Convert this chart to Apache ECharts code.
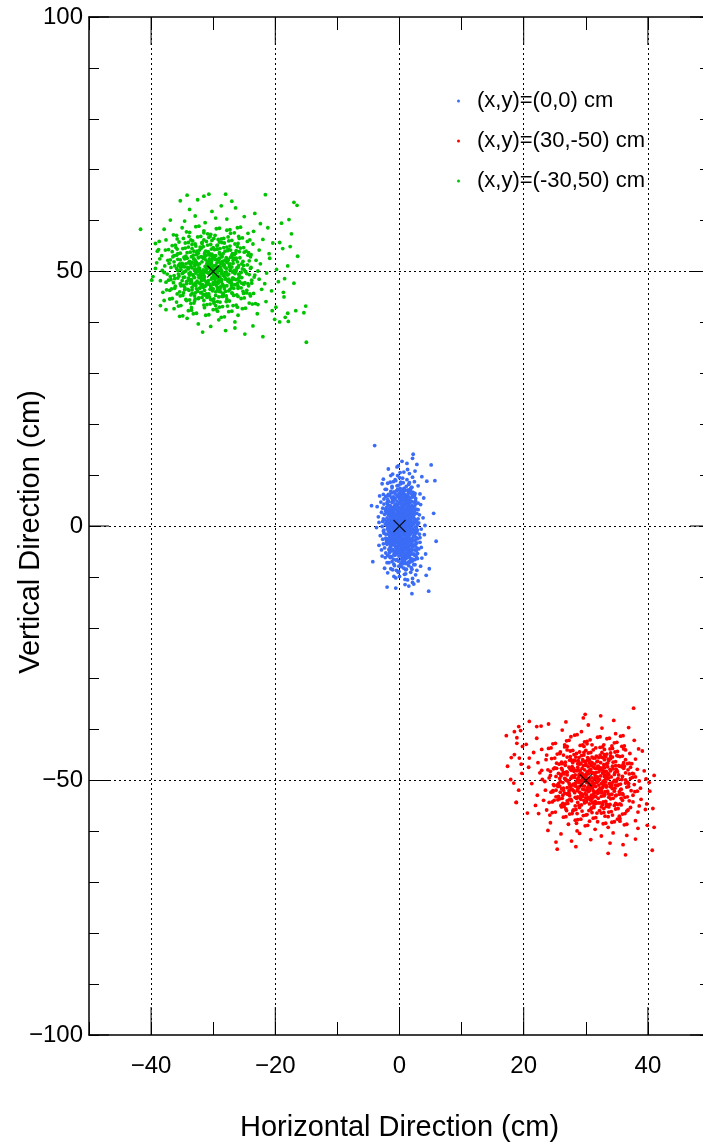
<!DOCTYPE html>
<html>
<head>
<meta charset="utf-8">
<script src="https://cdn.jsdelivr.net/npm/echarts@6/dist/echarts.min.js"></script>
<style>
html, body { margin: 0; padding: 0; background: #fff; }
#chart { width: 703px; height: 1144px; }
</style>
</head>
<body>
<div id="chart"></div>
<script>
// Beam-spot hit positions for three target settings (cm)
const seriesNames = ['(x,y)=(0,0) cm', '(x,y)=(30,-50) cm', '(x,y)=(-30,50) cm'];
const seriesColors = ['#3b6cf6', '#ff0000', '#00c400'];

// Nominal target positions, drawn as black crosses
const centres = [[0, 0], [30, -50], [-30, 50]];

// Labelled ticks and dotted guide positions
const xMajorTicks = [-40, -20, 0, 20, 40];
const yMajorTicks = [-100, -50, 0, 50, 100];
const xGuides = [-40, -20, 0, 20, 40];
const yGuides = [-50, 0, 50];

const blueCloud = [
  [-0.2,0.3],[0.8,-0.6],[1.5,0.9],[-1.1,-0.2],[0.3,0.7],[2.4,-0.8],[-2.3,0.4],[0.0,-0.9],[1.1,0.1],[-0.7,0.8],[0.6,-0.3],[1.9,0.5],[-1.6,-0.7],[0.2,0.0],[2.9,0.2],[-0.4,-0.5],[1.3,-0.9],[-2.8,-0.1],[0.9,0.6],[-0.9,0.2],[0.5,0.9],[1.7,-0.4],[-1.4,0.6],[3.5,-0.6],[-0.1,0.5],[0.7,-0.1],[2.2,0.8],[-1.9,-0.5],[0.4,-0.7],[1.0,0.4],[-0.6,-0.8],[2.6,-0.2],[-3.3,0.7],[0.1,0.2],[1.4,0.7],[-1.2,-0.4],[0.8,0.3],[-0.3,-0.2],[3.1,0.6],[-2.0,0.9],[1.8,-0.7],[0.0,0.8],[-0.8,-0.6],[2.0,0.0],[-1.5,0.1],[0.6,0.5],[1.2,-0.5],[-2.5,-0.8],[4.1,0.1],[-0.5,0.4],[0.9,-0.9],[1.6,0.2],[-1.0,0.7],[0.3,-0.4],[2.3,0.4],[-1.8,0.3],[0.5,-0.2],[-0.2,-0.9],[1.0,0.9],[-3.7,-0.3],[2.7,-0.9],[-0.6,0.0],[1.5,-0.1],[0.2,0.6],[-1.3,0.9],[0.7,0.1],[2.1,-0.6],
  [0.1,1.4],[1.2,2.1],[-0.8,1.8],[2.0,2.7],[-1.7,1.2],[0.6,2.5],[-0.3,2.9],[1.6,1.6],[-2.4,2.3],[0.9,1.1],[-1.1,2.6],[2.5,1.3],[0.3,1.9],[-0.5,1.3],[1.4,2.8],[-2.0,1.6],[3.2,2.2],[0.0,2.4],[-1.4,2.0],[1.0,1.5],[0.5,2.9],[-0.9,1.1],[2.2,1.9],[-2.9,2.7],[0.8,2.2],[-0.1,1.7],[1.8,1.0],[-1.6,2.8],[0.4,1.2],[2.8,2.5],[-0.6,2.2],[1.1,2.6],[-1.2,1.5],[0.2,2.8],[1.5,1.8],[-3.4,1.8],[0.7,1.3],[-0.4,2.0],[2.4,2.9],[-1.9,1.0],[1.3,2.3],[-0.2,1.1],[3.8,1.6],[0.9,2.7],[-1.0,2.4],[1.9,1.4],[0.1,2.2],[-2.2,2.9],[0.6,1.6],[2.1,2.2],[-0.7,1.5],[1.7,2.6],[-1.5,1.9],[0.3,2.6],[-2.6,1.4],[1.0,1.9],[0.0,1.0],[2.7,1.1],[-0.3,2.5],[1.4,1.2],[-1.3,2.7],
  [0.2,-1.3],[1.3,-2.2],[-0.7,-1.7],[2.1,-2.8],[-1.5,-1.1],[0.7,-2.5],[-0.2,-2.9],[1.7,-1.5],[-2.2,-2.4],[1.0,-1.2],[-1.0,-2.6],[2.6,-1.4],[0.4,-1.9],[-0.4,-1.4],[1.5,-2.7],[-1.8,-1.6],[3.3,-2.3],[0.1,-2.4],[-1.3,-2.0],[1.1,-1.6],[0.6,-2.9],[-0.8,-1.1],[2.3,-1.9],[-2.7,-2.6],[0.9,-2.2],[0.0,-1.7],[1.9,-1.0],[-1.5,-2.8],[0.5,-1.2],[2.9,-2.5],[-0.5,-2.2],[1.2,-2.6],[-1.1,-1.5],[0.3,-2.8],[1.6,-1.8],[-3.1,-1.9],[0.8,-1.4],[-0.3,-2.0],[2.5,-2.9],[-1.8,-1.0],[1.4,-2.3],[-0.1,-1.1],[4.0,-1.7],[1.0,-2.7],[-0.9,-2.4],[2.0,-1.3],[0.2,-2.1],[-2.1,-2.9],[0.7,-1.6],[2.2,-2.2],[-0.6,-1.5],[1.8,-2.6],[-1.4,-1.9],[0.4,-2.6],[-2.5,-1.4],[1.1,-1.9],[0.1,-1.0],[2.8,-1.2],[-0.2,-2.5],[1.5,-1.2],[-1.2,-2.7],
  [0.3,3.4],[1.4,4.2],[-0.9,3.8],[2.3,4.7],[-1.8,3.2],[0.8,4.5],[-0.4,4.9],[1.8,3.6],[-2.5,4.3],[1.0,3.1],[-1.2,4.6],[2.7,3.3],[0.4,3.9],[-0.6,3.3],[1.5,4.8],[-2.1,3.6],[3.4,4.2],[0.1,4.4],[-1.5,4.0],[1.2,3.5],[0.6,4.9],[-1.0,3.1],[2.4,3.9],[-3.0,4.7],[0.9,4.2],[-0.2,3.7],[1.9,3.0],[-1.7,4.8],[0.5,3.2],[3.0,4.5],[-0.7,4.2],[1.3,4.6],[-1.3,3.5],[0.2,4.8],[1.7,3.8],[-3.6,3.8],[0.7,3.3],[-0.5,4.0],[2.6,4.9],[-2.0,3.0],[1.1,4.3],[-0.1,3.1],[2.0,4.1],[-2.7,3.5],[0.0,4.6],
  [0.4,-3.4],[1.5,-4.2],[-0.8,-3.8],[2.4,-4.7],[-1.7,-3.2],[0.9,-4.5],[-0.3,-4.9],[1.9,-3.6],[-2.4,-4.3],[1.1,-3.1],[-1.1,-4.6],[2.8,-3.3],[0.5,-3.9],[-0.5,-3.3],[1.6,-4.8],[-2.0,-3.6],[3.5,-4.2],[0.2,-4.4],[-1.4,-4.0],[1.3,-3.5],[0.7,-4.9],[-0.9,-3.1],[2.5,-3.9],[-2.9,-4.7],[1.0,-4.2],[-0.1,-3.7],[2.0,-3.0],[-1.6,-4.8],[0.6,-3.2],[3.1,-4.5],[-0.6,-4.2],[1.4,-4.6],[-1.2,-3.5],[0.3,-4.8],[1.8,-3.8],[-3.3,-3.8],[0.8,-3.3],[-0.4,-4.0],[2.7,-4.9],[-1.9,-3.0],[1.2,-4.3],[0.0,-3.1],[2.1,-4.1],[-2.6,-3.5],[0.1,-4.6],
  [0.2,5.3],[1.3,6.1],[-1.0,5.7],[2.2,6.6],[-1.9,5.2],[0.7,6.4],[-0.5,6.9],[1.7,5.5],[-2.6,6.2],[0.9,5.1],[-1.3,6.5],[2.6,5.4],[0.3,5.9],[-0.7,5.4],[1.4,6.8],[-2.2,5.8],[3.3,6.3],[0.0,6.5],[-1.6,6.0],[1.1,5.6],[0.5,6.9],[-3.2,5.9],[2.4,6.0],[-0.2,5.8],[1.8,6.9],[-1.1,5.1],[0.8,5.9],[3.9,5.5],
  [0.5,-5.3],[1.6,-6.1],[-0.7,-5.7],[2.5,-6.6],[-1.6,-5.2],[1.0,-6.4],[-0.2,-6.9],[2.0,-5.5],[-2.3,-6.2],[1.2,-5.1],[-1.0,-6.5],[2.9,-5.4],[0.6,-5.9],[-0.4,-5.4],[1.7,-6.8],[-1.9,-5.8],[3.6,-6.3],[0.3,-6.5],[-1.3,-6.0],[1.4,-5.6],[0.8,-6.9],[-2.8,-5.9],[2.7,-6.0],[0.1,-5.8],[2.1,-6.9],[-0.8,-5.1],[1.1,-5.9],[4.2,-5.5],
  [0.1,7.4],[1.5,8.2],[-1.2,7.8],[2.4,8.7],[-2.1,7.2],[0.6,8.5],[-0.6,8.9],[1.9,7.6],[-2.8,8.3],[0.9,7.1],[-1.5,8.6],[3.0,7.9],[-0.2,8.0],[4.4,8.8],
  [0.6,-7.4],[1.9,-8.2],[-0.8,-7.8],[2.8,-8.7],[-1.7,-7.2],[1.1,-8.5],[-0.1,-8.9],[2.3,-7.6],[-2.4,-8.3],[1.4,-7.1],[-1.1,-8.6],[3.4,-7.9],[0.3,-8.0],[4.8,-8.4],
  [0.0,9.5],[1.6,10.3],[-1.4,9.9],[2.5,10.8],[-2.6,9.2],[0.7,10.6],[-0.7,9.1],[3.6,9.7],
  [0.8,-9.5],[2.1,-10.3],[-0.9,-9.9],[3.0,-10.8],[-1.9,-9.2],[1.3,-10.6],[-0.2,-9.1],[4.3,-9.7],
  [-0.4,11.6],[1.2,12.3],[-1.8,11.2],[2.8,12.1],[0.4,12.7],
  [0.9,-11.5],[-0.6,-12.2],[2.3,-11.4],[-2.0,-12.0],[4.7,-12.8],
  [-4.0,15.8],[2.2,14.1],[2.1,13.3],[5.1,12.0],[5.7,8.9],[2.0,-13.3],[5.9,-3.0],[-4.3,-7.0],[5.5,2.5],[-4.5,4.0],
  [-0.5,0.4],[0.4,1.1],[1.3,0.2],[-1.4,1.5],[2.0,1.8],[0.9,0.6],[-0.1,1.9],[-2.0,0.8],[1.6,1.3],[0.1,0.1],[2.6,0.7],[-0.8,1.2],[0.6,1.7],[1.9,0.3],[-1.7,0.2],[-0.3,1.0],[1.1,1.9],[3.0,1.4],[0.3,0.5],[-1.1,1.7],[0.7,0.9],[-2.4,1.2],[1.5,0.5],[0.0,1.5],
  [0.6,-0.3],[-0.7,-1.2],[1.7,-1.6],[-1.9,-0.6],[0.2,-1.8],[2.3,-1.1],[-0.3,-0.6],[1.0,-0.2],[-1.3,-1.4],[0.8,-1.3],[2.7,-0.4],[-0.9,-1.9],[0.4,-0.9],[1.4,-1.9],[-2.2,-1.6],[-0.1,-1.4],[1.2,-0.8],[3.2,-1.6],[0.0,-0.2],[-1.6,-0.3],[2.0,-0.6],[0.5,-1.6],[-2.6,-1.0],[1.8,-1.2],
  [0.2,2.4],[1.1,3.2],[-0.9,2.8],[1.9,3.7],[-1.8,2.2],[0.7,3.5],[-0.3,3.9],[1.6,2.6],[-2.3,3.3],[0.9,2.1],[-1.3,3.6],[2.4,2.3],[0.4,3.0],[-0.6,2.3],[1.4,3.8],[-2.1,2.6],[3.0,3.2],[0.0,3.4],[-1.5,3.0],[1.3,2.5],[0.5,3.9],[-0.9,2.1],[2.1,2.9],[0.8,3.2],
  [0.4,-2.4],[1.4,-3.2],[-0.7,-2.8],[2.2,-3.7],[-1.6,-2.2],[0.9,-3.5],[-0.2,-3.9],[1.8,-2.6],[-2.1,-3.3],[1.1,-2.1],[-1.0,-3.6],[2.7,-2.3],[0.5,-3.0],[-0.4,-2.3],[1.6,-3.8],[-1.9,-2.6],[3.3,-3.2],[0.2,-3.4],[-1.3,-3.0],[1.4,-2.5],[0.7,-3.9],[-0.7,-2.1],[2.3,-2.9],[1.0,-3.2],
  [0.1,4.4],[1.2,5.2],[-1.0,4.8],[2.1,5.7],[-1.9,4.2],[0.6,5.5],[-0.4,5.9],[1.7,4.6],[-2.5,5.3],[0.9,4.1],[-1.3,5.6],[2.6,4.3],[0.3,5.0],[-0.6,4.3],[1.4,5.8],[-2.0,4.6],[0.0,5.4],[1.1,4.5],[0.5,5.9],[-0.9,5.1],
  [0.5,-4.4],[1.6,-5.2],[-0.6,-4.8],[2.4,-5.7],[-1.5,-4.2],[1.0,-5.5],[-0.1,-5.9],[1.9,-4.6],[-2.2,-5.3],[1.2,-4.1],[-0.9,-5.6],[2.8,-4.3],[0.6,-5.0],[-0.3,-4.3],[1.6,-5.8],[-1.7,-4.6],[0.2,-5.4],[1.3,-4.5],[0.8,-5.9],[-0.5,-5.1],
  [0.3,6.3],[1.4,7.1],[-0.9,6.7],[2.0,7.6],[-1.8,6.2],[0.7,7.4],[-0.4,7.9],[1.6,6.5],[-2.3,7.2],[0.9,6.1],[-1.2,7.5],[2.5,6.4],[0.1,7.0],[1.1,7.8],
  [0.6,-6.3],[1.7,-7.1],[-0.6,-6.7],[2.5,-7.6],[-1.5,-6.2],[1.1,-7.4],[-0.1,-7.9],[2.1,-6.5],[-2.0,-7.2],[1.3,-6.1],[-0.9,-7.5],[2.9,-6.4],[0.4,-7.0],[1.5,-7.8],
  [0.2,8.3],[1.2,9.1],[-1.0,8.7],[2.1,9.6],[-1.9,8.4],[0.5,9.4],[-0.3,9.9],[1.6,8.5],
  [0.7,-8.3],[1.8,-9.1],[-0.5,-8.7],[2.6,-9.6],[-1.4,-8.4],[1.0,-9.4],[0.0,-9.9],[2.0,-8.5],
  [0.1,10.5],[1.3,11.1],[-1.1,10.2],[-0.2,11.8],
  [0.9,-10.5],[2.1,-11.1],[-0.6,-10.2],[1.5,-11.8],
  [-0.4,0.0],[0.5,0.2],[1.4,-0.3],[-1.2,0.3],[0.9,-0.5],[2.1,0.3],[-0.6,-0.3],[0.2,-0.6],[1.2,0.6],[-1.7,1.0],[0.7,1.4],[1.8,0.9],[-0.9,1.6],[0.0,2.0],[1.0,2.4],[2.3,1.6],[-1.5,2.5],[-0.4,2.6],[0.6,3.0],[1.6,3.3],[-0.8,3.4],[0.3,3.7],[1.2,4.0],[2.2,3.5],[-1.6,3.9],[-0.3,4.3],[0.8,4.7],[1.9,4.9],[-1.1,5.2],[0.0,5.6],[1.1,6.0],[2.0,6.2],[-0.7,6.3],[0.4,6.6],[1.5,5.1],[-1.9,5.9],[0.9,7.0],[-0.3,7.2],[1.8,7.3],[-1.4,6.8],
  [0.7,-0.8],[-0.5,-1.0],[1.6,-0.9],[-1.4,-1.2],[0.3,-1.5],[2.4,-1.5],[-0.2,-1.9],[1.0,-2.0],[-1.0,-2.2],[0.1,-2.7],[1.5,-2.4],[2.5,-2.1],[-1.7,-2.5],[0.6,-3.3],[-0.6,-3.0],[1.7,-3.1],[0.2,-3.8],[-1.5,-3.6],[1.2,-3.9],[2.2,-4.0],[-0.4,-4.4],[0.8,-4.6],[1.9,-4.9],[-1.2,-4.9],[0.0,-5.2],[1.4,-5.4],[-0.8,-5.7],[0.5,-6.0],[2.3,-5.5],[-1.6,-5.9],[1.1,-6.3],[-0.4,-6.6],[0.8,-6.9],[1.8,-6.4],[-1.2,-7.0],[0.2,-7.4],
  [0.0,0.9],[1.0,1.2],[-1.0,-0.9],[2.0,-0.3],[-2.1,0.1],[0.4,2.2],[1.7,2.1],[-0.7,3.9],[1.4,-1.2],[-0.2,-3.5],[0.9,-2.9],[2.9,-0.8],[-2.7,0.9],[0.5,4.2],[-0.1,6.3],[1.3,-6.0],[0.2,8.6],[1.0,-8.6],[-1.8,3.1],[2.6,-3.6]
];

const redCloud = [
  [30.1,-50.3],[33.2,-49.4],[27.4,-50.8],[35.0,-49.9],[31.3,-50.6],[25.2,-49.2],[32.0,-50.1],[28.7,-49.7],[36.4,-50.5],[27.9,-50.9],[34.1,-49.3],[30.6,-49.8],[26.3,-50.4],[37.2,-49.6],[29.8,-50.0],[32.9,-50.8],[24.1,-49.5],[32.4,-49.1],[28.5,-50.2],[35.6,-50.7],[31.0,-49.5],[26.8,-49.9],[34.4,-50.3],[30.0,-49.2],[38.6,-50.1],[29.3,-50.7],[31.7,-50.4],[25.6,-50.6],[33.5,-49.7],[31.5,-49.0],[28.2,-49.4],[35.9,-49.2],[30.5,-50.9],[23.4,-50.2],[34.8,-50.9],[29.5,-49.6],[32.2,-49.8],[27.1,-50.1],[37.8,-50.8],[31.1,-50.2],[24.8,-50.8],[33.0,-50.0],[29.9,-49.4],[35.2,-49.6],[27.6,-49.6],[32.6,-50.5],[39.7,-49.7],[28.9,-50.4],[30.8,-50.7],[26.0,-49.1],[33.8,-50.6],[30.3,-49.9],[36.7,-50.3],[27.3,-50.5],[33.4,-49.0],[23.0,-49.8],[31.9,-49.3],[29.4,-50.1],[34.9,-50.2],[31.4,-49.7],[28.0,-50.7],[37.5,-49.4],[29.6,-49.1],[32.8,-50.2],[26.6,-49.6],[40.2,-50.4],[21.3,-50.6],
  [31.0,-48.6],[33.9,-47.8],[28.1,-48.2],[35.8,-47.3],[26.0,-48.8],[32.4,-47.5],[29.6,-47.1],[34.7,-48.4],[24.8,-47.7],[33.2,-48.9],[27.3,-47.4],[37.0,-48.7],[30.5,-48.1],[29.0,-48.7],[34.3,-47.2],[26.4,-48.4],[38.3,-47.8],[31.8,-47.6],[27.7,-48.0],[32.7,-48.5],[35.3,-47.1],[30.2,-48.3],[23.9,-47.9],[33.5,-47.3],[30.8,-47.8],[28.4,-48.0],[36.4,-48.5],[29.3,-48.8],[32.0,-47.2],[25.6,-48.6],[31.5,-47.6],[34.0,-48.1],[29.8,-47.9],[27.0,-48.4],[31.3,-47.4],[37.7,-48.7],[26.7,-47.0],[33.0,-47.5],[29.1,-48.1],[35.5,-47.2],[28.7,-47.4],[22.6,-48.5],[32.1,-48.3],[30.0,-48.8],[34.6,-48.8],[27.9,-47.7],[36.1,-47.6],[30.4,-47.3],[25.0,-47.5],[32.6,-47.9],[28.3,-48.9],[31.7,-48.4],[35.0,-48.0],[30.9,-47.1],[27.5,-47.8],[33.6,-48.6],[20.8,-47.4],[29.4,-47.6],[32.9,-48.2],[26.2,-47.9],[39.4,-48.1],
  [30.3,-51.4],[33.1,-52.2],[27.6,-51.8],[35.4,-52.7],[25.5,-51.2],[31.9,-52.5],[29.2,-52.9],[34.3,-51.6],[24.4,-52.3],[32.8,-51.1],[27.0,-52.6],[36.6,-51.3],[30.0,-51.9],[28.6,-51.3],[33.9,-52.8],[26.1,-51.6],[37.9,-52.2],[31.4,-52.4],[27.3,-52.0],[32.3,-51.5],[34.9,-52.9],[29.8,-51.1],[23.5,-51.9],[33.0,-52.7],[30.4,-52.2],[28.0,-52.0],[36.0,-52.8],[29.0,-52.3],[31.6,-51.2],[25.2,-51.9],[31.1,-51.4],[33.6,-52.6],[29.5,-51.7],[26.6,-52.5],[30.9,-51.5],[37.3,-52.0],[26.3,-52.9],[32.6,-52.4],[28.8,-51.5],[35.1,-51.0],[28.3,-51.1],[22.2,-52.9],[31.7,-52.3],[29.7,-51.8],[34.2,-51.4],[27.5,-51.0],[35.7,-51.7],[30.1,-52.8],[24.7,-52.0],[32.2,-51.8],[28.2,-52.4],[31.3,-52.6],[34.6,-52.1],[30.6,-52.0],[27.1,-52.7],[33.3,-51.3],[38.8,-51.5],[29.3,-52.6],[32.5,-51.9],[25.9,-52.3],[40.3,-52.1],
  [30.6,-46.6],[33.6,-45.8],[27.8,-46.2],[35.5,-45.3],[25.7,-46.8],[32.1,-45.5],[29.3,-45.1],[34.4,-46.4],[24.5,-45.7],[32.9,-46.9],[27.0,-45.4],[36.7,-46.7],[30.2,-46.1],[28.7,-46.7],[34.0,-45.2],[26.1,-46.4],[38.0,-45.8],[31.5,-45.6],[27.4,-46.0],[32.4,-46.5],[35.0,-45.1],[29.9,-46.3],[23.6,-45.9],[33.2,-45.3],[30.5,-45.8],[28.1,-46.0],[36.1,-46.5],[29.0,-46.8],[31.7,-45.2],[25.3,-46.6],[31.2,-45.6],[33.7,-46.1],[29.5,-45.9],[26.7,-46.4],[31.0,-45.4],[37.4,-46.7],[26.4,-45.0],[32.7,-45.5],[28.8,-46.1],[35.2,-45.2],[28.4,-45.4],[22.3,-46.5],[31.8,-46.3],[20.9,-45.6],[19.6,-46.8],
  [30.0,-53.4],[32.8,-54.2],[27.3,-53.8],[35.1,-54.7],[25.2,-53.2],[31.6,-54.5],[28.9,-54.9],[34.0,-53.6],[24.1,-54.3],[32.5,-53.1],[26.7,-54.6],[36.3,-53.3],[29.7,-53.9],[28.3,-53.3],[33.6,-54.8],[25.8,-53.6],[37.6,-54.2],[31.1,-54.4],[27.0,-54.0],[32.0,-53.5],[34.6,-54.9],[29.5,-53.1],[23.2,-53.9],[32.7,-54.7],[30.1,-54.2],[27.7,-54.0],[35.7,-54.8],[28.7,-54.3],[31.3,-53.2],[24.9,-53.9],[30.8,-53.4],[33.3,-54.6],[29.2,-53.7],[26.3,-54.5],[30.6,-53.5],[37.0,-54.0],[26.0,-54.9],[32.3,-54.4],[28.5,-53.5],[34.8,-53.0],[38.9,-53.7],[21.9,-54.9],[31.4,-54.3],[18.8,-54.3],[39.8,-54.6],
  [30.4,-44.6],[33.9,-43.8],[27.5,-44.2],[35.8,-43.3],[25.4,-44.8],[32.3,-43.5],[29.1,-43.1],[34.7,-44.4],[24.0,-43.7],[33.0,-44.9],[26.6,-43.4],[37.1,-44.7],[30.0,-44.1],[28.5,-44.7],[34.2,-43.2],[25.9,-44.4],[38.5,-43.8],[31.6,-43.6],[27.0,-44.0],[32.6,-44.5],[22.9,-43.9],[29.7,-43.3],[36.4,-44.0],[21.6,-44.5],[31.0,-43.0],[19.8,-43.3],[18.5,-44.9],[39.1,-44.2],
  [30.9,-55.4],[33.7,-56.2],[28.0,-55.8],[35.9,-56.6],[26.1,-55.2],[32.5,-56.4],[29.6,-56.9],[34.8,-55.6],[24.6,-56.3],[33.3,-55.1],[27.4,-56.6],[37.2,-55.3],[30.5,-55.9],[29.0,-55.3],[34.3,-56.8],[26.8,-55.6],[38.4,-56.2],[31.8,-56.4],[27.9,-56.0],[32.9,-55.5],[23.7,-55.8],[30.2,-56.7],[36.6,-56.0],[22.4,-56.5],[31.3,-55.0],[39.6,-55.7],[28.6,-56.5],[35.4,-57.0],
  [29.8,-42.4],[33.4,-41.8],[26.9,-42.2],[35.6,-41.3],[24.7,-42.8],[31.9,-41.5],[28.2,-41.1],[34.6,-42.6],[22.1,-41.7],[37.8,-42.1],[20.4,-42.9],[18.9,-41.6],[30.7,-42.0],[27.6,-41.4],
  [31.2,-57.4],[34.2,-58.2],[28.3,-57.8],[36.2,-58.7],[26.4,-57.2],[32.8,-58.5],[29.9,-58.9],[35.1,-57.6],[24.3,-58.3],[33.6,-57.1],[27.2,-58.6],[38.0,-57.9],[30.6,-58.0],[39.9,-58.8],
  [29.3,-40.4],[32.6,-39.7],[26.2,-40.1],[34.8,-40.8],[22.8,-39.3],[30.4,-39.1],[19.5,-40.2],[36.9,-39.6],
  [31.5,-59.6],[34.4,-60.3],[28.6,-59.9],[36.6,-60.8],[26.0,-60.5],[32.5,-60.9],[38.4,-59.4],[23.9,-59.8],
  [29.6,-37.7],[32.4,-37.3],[26.8,-38.5],[34.5,-38.2],[24.0,-38.9],
  [30.8,-61.6],[33.9,-62.3],[27.7,-61.9],[36.0,-62.6],[25.2,-62.1],
  [37.7,-35.8],[17.2,-41.2],[17.4,-47.2],[18.8,-54.3],[41.0,-49.0],[41.0,-59.2],[40.7,-63.7],[36.4,-64.6],[33.6,-64.3],[25.4,-63.5],[28.4,-63.0],[29.9,-37.0],[18.0,-45.5],[17.9,-49.8],[19.2,-51.9],[40.8,-55.5],[38.0,-61.5],
  [18.5,-40.4],[19.2,-39.4],[20.9,-38.4],[22.1,-39.4],[18.9,-42.7],[19.3,-45.6],[19.7,-48.6],[18.4,-50.5],[20.6,-56.4],
  [30.5,-49.6],[34.0,-50.5],[27.7,-49.3],[32.1,-50.9],[29.0,-50.0],[35.8,-49.8],[25.9,-50.2],[33.0,-49.2],[30.2,-50.4],[36.9,-50.6],[26.7,-49.7],[31.6,-49.4],[34.6,-50.0],[28.4,-50.5],[24.3,-49.0],[32.5,-50.6],[29.7,-49.8],[38.0,-49.3],[31.2,-50.8],[27.9,-49.1],[33.7,-49.5],[25.4,-50.9],[31.8,-50.3],[35.3,-50.8],
  [30.7,-51.3],[33.5,-52.1],[27.8,-51.7],[35.9,-52.6],[25.8,-51.1],[32.4,-52.4],[29.5,-52.8],[34.7,-51.5],[24.7,-52.2],[33.3,-51.0],[27.3,-52.5],[36.9,-51.2],[30.3,-51.8],[29.0,-51.2],[34.2,-52.7],[26.4,-51.5],[38.3,-52.1],[31.7,-52.3],[28.6,-52.0],[32.0,-51.9],[35.4,-52.2],[30.9,-52.9],[27.0,-51.4],[33.0,-52.9],
  [31.3,-48.5],[34.4,-47.7],[28.6,-48.1],[36.2,-47.2],[26.5,-48.7],[32.9,-47.4],[30.0,-47.0],[35.1,-48.3],[25.3,-47.6],[33.7,-48.8],[27.8,-47.3],[37.5,-48.6],[30.7,-48.0],[29.4,-48.6],[34.8,-47.1],[26.9,-48.3],[32.3,-47.9],[28.9,-48.9],[31.9,-47.3],[36.8,-47.9],[24.3,-48.2],[33.3,-48.2],[30.4,-48.7],[28.0,-47.6],
  [30.4,-53.3],[33.2,-54.1],[27.6,-53.7],[35.5,-54.6],[25.6,-53.1],[32.0,-54.4],[29.3,-54.8],[34.4,-53.5],[24.6,-54.2],[32.9,-53.0],[27.1,-54.5],[36.7,-53.2],[30.2,-53.8],[28.7,-53.2],[33.9,-54.7],[26.2,-53.5],[31.5,-54.1],[29.8,-54.4],[31.0,-53.6],[35.9,-53.9],
  [31.0,-46.5],[34.0,-45.7],[28.3,-46.1],[35.9,-45.2],[26.2,-46.7],[32.5,-45.4],[29.7,-45.0],[34.8,-46.3],[25.0,-45.6],[33.3,-46.8],[27.5,-45.3],[37.0,-46.6],[30.6,-46.0],[29.2,-46.6],[33.0,-45.9],[31.9,-46.2],[28.9,-45.5],[36.4,-45.9],[30.0,-46.8],[27.9,-46.5],
  [31.3,-55.3],[34.1,-56.1],[28.4,-55.7],[36.3,-56.5],[26.5,-55.1],[32.9,-56.3],[30.0,-56.8],[35.2,-55.5],[25.1,-56.2],[33.7,-55.2],[27.8,-56.5],[30.8,-55.7],[29.4,-56.0],[32.2,-55.9],
  [30.8,-44.5],[34.3,-43.7],[27.9,-44.1],[36.2,-43.2],[25.8,-44.7],[32.7,-43.4],[29.5,-43.0],[35.1,-44.3],[24.4,-43.6],[33.4,-44.8],[27.0,-43.3],[31.2,-44.0],[29.0,-44.4],[33.0,-43.9],
  [31.6,-57.3],[34.6,-58.1],[28.7,-57.7],[36.6,-58.6],[26.8,-57.1],[33.2,-58.4],[30.3,-58.8],[35.5,-57.5],
  [30.2,-42.3],[33.8,-41.7],[27.3,-42.1],[36.0,-41.2],[25.1,-42.7],[32.3,-41.4],[28.6,-41.0],[35.0,-42.5],
  [30.5,-50.2],[31.8,-49.7],[28.3,-50.6],[34.2,-50.9],[27.0,-50.0],[32.7,-51.4],[29.4,-51.0],[35.6,-51.8],[26.4,-51.9],[31.2,-52.0],[33.9,-51.2],[29.9,-52.6],[36.4,-49.9],[25.8,-49.6],[30.9,-48.4],[32.2,-47.7],[28.8,-47.9],[34.9,-47.8],[27.0,-48.9],[31.4,-46.8],[29.6,-46.2],[33.5,-46.6],[36.0,-46.9],[26.1,-47.6],[30.3,-45.5],[32.3,-45.0],[28.1,-44.9],[34.3,-45.4],[31.6,-53.1],[29.1,-53.5],[33.7,-53.3],[27.4,-53.0],[35.7,-53.5],[30.6,-54.6],[32.5,-55.2],[28.3,-55.0],[34.8,-54.5],[26.9,-55.9],[31.0,-56.3],[33.1,-57.0],[29.2,-57.6],[36.8,-55.8],[24.9,-51.0],[37.6,-52.9],[30.0,-49.0],[31.5,-51.1],[28.9,-49.3],[33.2,-50.3],[27.5,-51.3],[35.3,-48.9],[30.8,-53.9],[32.8,-48.6],[29.7,-44.5],[27.6,-45.9],[34.0,-44.6],[31.9,-58.1],[28.5,-58.4],[35.5,-58.0],[25.5,-53.8],[37.2,-47.4],[30.2,-42.8],[32.9,-43.0],[22.9,-48.0],[38.6,-55.0],[24.2,-56.8],[36.1,-43.8],[26.6,-43.0],[33.6,-59.2],[29.0,-60.4],[23.7,-45.0]
];

const greenCloud = [
  [-31.2,50.3],[-28.4,49.4],[-34.1,50.8],[-26.9,49.9],[-30.2,50.6],[-36.3,49.2],[-29.5,50.1],[-32.8,49.7],[-25.3,50.5],[-33.6,50.9],[-27.7,49.3],[-30.9,49.8],[-35.2,50.4],[-24.6,49.6],[-31.8,50.0],[-28.9,50.8],[-37.4,49.5],[-29.1,49.1],[-33.0,50.2],[-26.2,50.7],[-30.6,49.5],[-34.7,49.9],[-27.3,50.3],[-31.5,49.2],[-22.8,50.1],[-32.3,50.7],[-29.8,50.4],[-35.9,50.6],[-28.1,49.7],[-30.0,49.0],[-33.3,49.4],[-25.8,49.2],[-31.0,50.9],[-38.2,50.2],[-27.0,50.9],[-32.0,49.6],[-29.3,49.8],[-34.4,50.1],[-23.9,50.8],[-30.4,50.2],[-36.8,50.8],[-28.6,50.0],[-31.6,49.4],[-26.5,49.6],[-33.9,49.6],[-29.0,50.5],[-21.4,49.7],[-32.6,50.4],[-30.8,50.7],[-35.5,49.1],[-27.9,50.6],[-31.3,49.9],[-25.0,50.3],[-34.0,50.5],[-28.2,49.0],[-37.9,49.8],[-29.6,49.3],[-32.1,50.1],[-26.6,50.2],[-30.1,49.7],[-33.4,50.7],[-24.2,49.4],[-31.9,49.1],[-28.7,50.2],[-35.0,49.6],[-19.8,50.4],[-39.3,50.6],
  [-30.5,51.4],[-27.6,52.2],[-33.4,51.8],[-25.7,52.7],[-35.6,51.2],[-29.1,52.5],[-31.9,52.9],[-26.8,51.6],[-36.9,52.3],[-28.3,51.1],[-34.2,52.6],[-24.5,51.3],[-30.9,51.9],[-32.5,51.3],[-27.2,52.8],[-35.0,51.6],[-23.1,52.2],[-29.7,52.4],[-33.8,52.0],[-28.8,51.5],[-31.4,52.9],[-37.8,51.1],[-26.1,51.9],[-30.1,52.7],[-32.9,52.2],[-25.2,52.0],[-34.7,52.8],[-28.0,52.3],[-30.7,51.2],[-36.3,51.9],[-27.4,51.4],[-31.6,52.6],[-29.4,51.7],[-33.1,52.5],[-22.4,51.5],[-30.3,52.0],[-38.6,52.5],[-26.4,52.4],[-32.2,51.5],[-28.6,52.9],[-34.9,51.0],[-29.9,51.1],[-24.0,52.9],[-31.2,52.3],[-35.7,52.4],[-27.8,51.8],[-33.6,51.4],[-30.0,52.8],[-25.9,51.2],[-32.7,51.8],[-29.2,52.1],[-36.5,52.9],[-28.2,51.3],[-31.0,51.6],[-20.9,52.6],[-34.4,51.5],[-26.7,52.6],[-30.6,52.5],[-32.4,52.7],[-28.5,52.0],[-39.1,51.7],
  [-29.8,48.6],[-32.4,47.8],[-27.1,48.2],[-34.8,47.3],[-25.4,48.8],[-30.6,47.5],[-28.3,47.1],[-33.5,48.4],[-23.8,47.7],[-31.8,48.9],[-26.5,47.4],[-35.7,48.7],[-29.2,48.1],[-32.0,48.7],[-27.8,47.2],[-36.8,48.4],[-24.9,47.8],[-30.9,47.6],[-28.7,48.0],[-33.9,48.5],[-26.0,47.1],[-31.4,48.3],[-37.6,47.9],[-29.5,47.3],[-27.3,47.8],[-34.3,48.0],[-22.6,48.5],[-30.2,48.8],[-32.8,47.2],[-28.0,48.6],[-35.3,47.6],[-25.8,48.1],[-31.1,47.9],[-29.0,48.4],[-33.2,47.4],[-26.9,48.7],[-38.5,48.2],[-30.4,47.0],[-28.5,47.5],[-32.6,48.1],[-24.3,47.2],[-31.7,47.4],[-27.5,48.5],[-34.6,48.9],[-29.7,47.9],[-21.7,47.6],[-30.8,48.2],[-33.0,48.8],[-26.3,48.4],[-36.1,47.1],[-28.9,48.9],[-31.3,47.1],[-25.1,47.5],[-32.1,47.6],[-29.4,48.7],[-35.0,48.2],[-27.0,47.6],[-30.0,47.8],[-23.4,48.9],[-33.7,47.7],[-19.5,48.0],
  [-30.2,53.4],[-27.2,54.2],[-33.7,53.8],[-25.1,54.7],[-35.9,53.2],[-28.9,54.5],[-31.6,54.9],[-26.4,53.6],[-37.2,54.3],[-29.6,53.1],[-34.5,54.6],[-23.9,53.3],[-30.8,53.9],[-32.7,53.3],[-27.8,54.8],[-35.3,53.6],[-22.6,54.2],[-29.3,54.4],[-33.1,54.0],[-28.4,53.5],[-31.2,54.0],[-38.3,53.1],[-25.8,53.9],[-30.0,54.7],[-32.2,54.2],[-24.7,54.0],[-34.0,54.8],[-27.5,54.3],[-30.5,53.2],[-36.6,53.9],[-26.9,53.4],[-31.9,54.6],[-29.0,53.7],[-33.4,54.5],[-21.0,53.5],[-28.1,54.0],[-35.8,54.4],[-30.3,54.4],[-32.4,53.6],[-26.1,54.9],[-29.8,53.0],[-39.0,54.0],[-24.3,53.7],[-31.4,53.5],[-27.0,53.1],
  [-30.0,46.6],[-32.9,45.8],[-27.5,46.2],[-34.9,45.3],[-25.5,46.8],[-30.8,45.5],[-28.6,45.1],[-33.4,46.4],[-23.5,45.7],[-31.6,46.9],[-26.2,45.4],[-36.2,46.7],[-29.1,46.1],[-32.2,46.7],[-27.9,45.2],[-37.5,46.4],[-24.6,45.8],[-31.1,45.6],[-28.8,46.0],[-34.1,46.5],[-26.0,45.1],[-31.4,46.3],[-38.1,45.9],[-29.6,45.3],[-27.0,45.8],[-35.4,46.0],[-22.2,46.5],[-30.3,46.8],[-33.0,45.2],[-28.2,46.6],[-35.8,45.6],[-25.2,46.1],[-31.9,45.9],[-29.3,46.4],[-33.6,45.4],[-26.7,46.7],[-20.6,46.2],[-30.6,45.0],[-28.4,45.5],[-32.5,46.1],[-24.0,45.2],[-31.3,45.4],[-27.3,46.5],[-34.6,46.9],[-18.7,45.9],
  [-30.4,55.3],[-27.0,56.1],[-34.0,55.7],[-25.3,56.6],[-36.1,55.2],[-28.7,56.4],[-32.0,56.9],[-26.0,55.5],[-37.6,56.2],[-29.4,55.1],[-34.8,56.5],[-23.6,55.4],[-31.1,55.9],[-32.9,55.4],[-27.6,56.8],[-35.5,55.8],[-22.0,56.3],[-29.9,56.5],[-33.3,56.0],[-28.2,55.6],[-31.5,56.2],[-38.7,55.9],[-25.9,56.9],[-30.7,56.7],[-24.5,55.9],[-33.9,56.9],[-20.4,55.6],[-29.0,55.8],
  [-29.9,44.6],[-33.1,43.8],[-27.4,44.2],[-35.2,43.3],[-25.0,44.8],[-31.0,43.5],[-28.5,43.1],[-33.8,44.4],[-23.2,43.7],[-31.8,44.9],[-26.3,43.4],[-36.6,44.7],[-29.3,44.1],[-32.4,44.7],[-27.7,43.2],[-37.9,44.3],[-24.2,43.8],[-30.5,43.6],[-28.9,44.0],[-34.4,44.5],[-26.1,43.0],[-31.5,44.3],[-21.5,44.1],[-29.6,43.3],[-35.9,44.0],[-22.8,43.5],[-30.1,44.4],[-19.9,43.0],
  [-30.9,57.4],[-27.3,58.2],[-34.3,57.8],[-25.6,58.7],[-36.4,57.2],[-29.0,58.5],[-32.3,58.9],[-26.6,57.6],[-37.9,58.3],[-29.7,57.1],[-35.0,58.6],[-23.5,57.9],[-31.5,58.0],[-21.2,58.6],
  [-29.5,42.6],[-32.7,41.8],[-27.0,42.2],[-34.9,41.3],[-24.8,42.8],[-30.7,41.5],[-28.2,41.1],[-33.5,42.4],[-22.9,41.7],[-31.4,42.9],[-26.0,41.4],[-36.3,42.7],[-20.5,42.3],[-18.4,41.0],
  [-31.3,59.6],[-27.8,60.3],[-34.6,59.9],[-25.0,60.8],[-29.6,60.5],[-36.9,60.1],[-22.4,59.4],[-32.9,60.9],
  [-29.1,40.5],[-32.4,39.7],[-26.5,40.1],[-34.2,40.8],[-23.6,39.3],[-30.4,39.2],[-20.1,40.6],[-17.9,40.2],
  [-30.2,61.8],[-26.4,62.5],[-33.8,62.2],[-28.7,62.9],[-23.3,61.4],
  [-28.0,38.4],[-31.7,38.1],[-24.9,37.7],[-22.0,37.2],[-26.5,38.9],
  [-34.2,65.0],[-31.5,64.8],[-30.7,65.2],[-28.0,65.2],[-21.6,65.1],[-35.3,63.9],[-32.5,64.1],[-27.0,63.8],
  [-41.7,58.3],[-17.0,63.6],[-16.5,63.0],[-15.0,36.1],
  [-19.3,55.7],[-18.8,54.5],[-17.4,57.4],[-17.6,54.9],[-18.0,51.1],[-18.5,48.6],[-17.0,47.7],[-18.6,45.0],[-15.1,43.2],[-16.7,42.3],[-15.4,41.9],[-19.3,40.1],[-18.0,41.8],[-39.3,55.5],[-38.8,54.3],[-39.7,49.0],[-39.9,48.3],[-38.5,43.3],[-37.6,42.5],[-16.4,53.0],[-19.0,59.5],[-17.8,60.2],
  [-30.7,49.6],[-27.2,50.5],[-33.8,49.3],[-29.4,50.9],[-32.5,50.0],[-25.5,49.8],[-35.7,50.2],[-28.3,49.2],[-31.1,50.4],[-24.0,50.6],[-34.9,49.7],[-29.9,49.4],[-26.4,50.0],[-32.9,50.5],[-36.9,49.0],[-28.8,50.6],[-31.7,49.8],[-23.3,49.3],[-30.3,50.8],[-33.2,49.1],[-27.5,49.5],[-35.3,50.9],[-29.2,50.3],[-26.0,50.8],
  [-31.0,51.3],[-28.2,52.1],[-34.0,51.7],[-26.3,52.6],[-36.2,51.1],[-29.6,52.4],[-32.3,52.8],[-27.3,51.5],[-37.3,52.2],[-28.9,51.0],[-34.6,52.5],[-25.1,51.2],[-30.4,51.8],[-33.0,51.2],[-27.9,52.7],[-35.4,51.5],[-24.2,52.1],[-30.2,52.3],[-31.8,51.9],[-29.0,51.9],[-26.8,52.2],[-33.5,52.9],[-31.3,51.0],[-28.5,51.6],
  [-30.3,48.5],[-32.9,47.7],[-27.6,48.1],[-35.2,47.2],[-25.9,48.7],[-31.1,47.4],[-28.8,47.0],[-34.0,48.3],[-24.4,47.6],[-32.3,48.8],[-27.0,47.3],[-36.2,48.6],[-29.7,48.0],[-31.6,48.6],[-28.2,47.1],[-37.2,48.3],[-25.4,47.7],[-30.0,47.5],[-29.1,48.9],[-33.5,47.9],[-26.6,48.5],[-31.9,48.2],[-34.8,48.8],[-28.6,48.4],
  [-30.8,53.3],[-27.7,54.1],[-34.2,53.7],[-25.6,54.6],[-36.3,53.1],[-29.4,54.4],[-32.1,54.8],[-26.9,53.5],[-37.7,54.2],[-30.1,53.0],[-34.9,54.5],[-24.4,53.2],[-31.3,53.8],[-33.2,53.2],[-28.3,54.7],[-35.7,53.5],[-29.8,54.3],[-32.6,54.0],[-28.9,53.4],[-26.3,54.1],
  [-30.5,46.5],[-33.4,45.7],[-28.0,46.1],[-35.3,45.2],[-26.0,46.7],[-31.3,45.4],[-29.1,45.0],[-33.9,46.3],[-24.1,45.6],[-32.1,46.8],[-26.7,45.3],[-36.7,46.6],[-29.6,46.0],[-32.7,46.6],[-28.4,45.1],[-37.0,46.3],[-25.1,45.7],[-31.6,45.5],[-29.3,46.9],[-34.6,46.4],
  [-30.9,55.2],[-27.5,56.0],[-34.5,55.6],[-25.8,56.5],[-36.6,55.1],[-29.2,56.3],[-32.5,56.8],[-26.5,55.4],[-33.4,55.3],[-30.2,56.1],[-28.6,55.7],[-31.8,55.5],[-35.8,56.4],[-24.1,56.2],
  [-30.4,44.5],[-33.6,43.7],[-27.9,44.1],[-35.6,43.2],[-25.5,44.7],[-31.5,43.4],[-29.0,43.0],[-34.3,44.3],[-23.7,43.6],[-32.3,44.8],[-26.8,43.3],[-37.0,44.6],[-29.8,44.0],[-32.9,44.6],
  [-30.4,57.3],[-27.8,58.1],[-33.8,57.7],[-26.1,58.6],[-35.9,57.1],[-29.5,58.4],[-32.8,58.8],[-24.4,57.5],
  [-30.0,42.5],[-33.2,41.7],[-27.5,42.1],[-35.4,41.2],[-25.3,42.7],[-31.2,41.4],[-28.7,41.0],[-34.0,42.3],
  [-30.0,50.1],[-28.7,49.6],[-32.2,50.6],[-26.3,50.2],[-33.7,49.8],[-29.6,51.2],[-31.4,48.9],[-27.4,51.0],[-34.6,50.9],[-30.8,52.0],[-28.0,48.5],[-32.9,51.6],[-25.4,51.5],[-35.6,49.5],[-29.2,47.7],[-31.9,47.2],[-27.0,46.9],[-33.4,46.9],[-30.1,46.2],[-28.4,45.7],[-32.0,45.8],[-26.1,47.6],[-34.3,47.6],[-30.6,53.5],[-28.6,53.0],[-32.6,53.8],[-26.6,53.3],[-34.4,53.0],[-29.3,55.2],[-31.8,55.7],[-27.3,55.0],[-33.6,56.2],[-30.5,56.9],[-28.9,46.6],[-31.0,44.9],[-33.0,44.2],[-27.8,44.6],[-29.9,43.8],[-35.3,52.3],[-24.8,50.0],[-36.4,47.8],[-25.0,53.8],[-36.0,54.7],[-24.6,46.3],[-30.3,51.5],[-29.0,52.6],[-31.6,50.3],[-27.9,49.9],[-32.4,49.3],[-26.8,48.7],[-34.0,48.7],[-30.9,47.9],[-28.1,50.8],[-33.1,52.4],[-29.5,49.0],[-31.2,53.1],[-27.6,52.4],[-35.0,51.4],[-25.9,49.5],[-30.7,45.6],[-32.8,55.0],[-28.3,56.5],[-26.9,45.7],[-34.8,45.8],[-31.5,57.6],[-29.3,42.2],[-33.5,42.9],[-27.2,57.5],[-23.8,48.3],[-37.1,51.6]
];

const clouds = [blueCloud, redCloud, greenCloud];

const FONT = '"Liberation Sans", Arial, Helvetica, sans-serif';
const fmtNum = v => (v < 0 ? '\u2212' + Math.abs(v) : String(v));

const X_MIN = -50, X_MAX = 50, Y_MIN = -100, Y_MAX = 100;
const frameLine = { show: true, onZero: false, lineStyle: { color: '#000', width: 1.5 } };
const tickStyle = { color: '#000', width: 1 };

const chart = echarts.init(document.getElementById('chart'), null, { renderer: 'canvas' });

// Frame axes: short inward ticks every 10 units on all four sides
function frameAxis(position, range, extra) {
  return Object.assign({
    type: 'value',
    position: position,
    min: range[0],
    max: range[1],
    interval: 10,
    splitLine: { show: false },
    axisLine: frameLine,
    axisTick: { show: true, inside: true, length: 10, lineStyle: tickStyle },
    axisLabel: { show: false },
    axisPointer: { show: false }
  }, extra || {});
}

const xAxes = [
  frameAxis('bottom', [X_MIN, X_MAX], {
    axisTick: { show: true, inside: true, length: 13, lineStyle: tickStyle },
    axisLabel: {
      show: true, margin: 19, color: '#000', fontSize: 24, fontFamily: FONT,
      formatter: v => (xMajorTicks.indexOf(v) >= 0 ? fmtNum(v) : '')
    },
    name: 'Horizontal Direction (cm)',
    nameLocation: 'middle',
    nameGap: 78,
    nameMoveOverlap: false,
    nameTextStyle: { color: '#000', fontSize: 29, fontFamily: FONT }
  }),
  frameAxis('top', [X_MIN, X_MAX], {
    axisTick: { show: true, inside: true, length: 13, lineStyle: tickStyle }
  })
];

const yAxes = [
  frameAxis('left', [Y_MIN, Y_MAX], {
    axisLabel: {
      show: true, margin: 6, color: '#000', fontSize: 24, fontFamily: FONT,
      formatter: v => (yMajorTicks.indexOf(v) >= 0 ? fmtNum(v) : '')
    },
    name: 'Vertical Direction (cm)',
    nameLocation: 'middle',
    nameRotate: 90,
    nameGap: 44,
    nameMoveOverlap: false,
    nameTextStyle: { color: '#000', fontSize: 29, fontFamily: FONT, padding: [0, 12, 0, 0] }
  }),
  frameAxis('right', [Y_MIN, Y_MAX])
];

// Long ticks at the labelled values, placed through the axis scale
function majorTickSeries(values, side, len) {
  return {
    type: 'custom',
    xAxisIndex: 0,
    yAxisIndex: 0,
    silent: true,
    clip: false,
    z: 4,
    data: values.map(v => (side === 'bottom' || side === 'top') ? [v, 0] : [0, v]),
    renderItem: (params, api) => {
      let p, q;
      if (side === 'bottom') { p = api.coord([api.value(0), Y_MIN]); q = [p[0], p[1] - len]; }
      else if (side === 'top') { p = api.coord([api.value(0), Y_MAX]); q = [p[0], p[1] + len]; }
      else if (side === 'left') { p = api.coord([X_MIN, api.value(1)]); q = [p[0] + len, p[1]]; }
      else { p = api.coord([X_MAX, api.value(1)]); q = [p[0] - len, p[1]]; }
      return {
        type: 'line',
        shape: { x1: p[0], y1: p[1], x2: q[0], y2: q[1] },
        style: { stroke: '#000', lineWidth: 1 }
      };
    }
  };
}

const guideLines = xGuides.map(v => ({ xAxis: v })).concat(yGuides.map(v => ({ yAxis: v })));

const cloudSeries = clouds.map((pts, i) => ({
  name: seriesNames[i],
  type: 'scatter',
  xAxisIndex: 0,
  yAxisIndex: 0,
  z: 2,
  symbol: 'circle',
  symbolSize: 3.8,
  itemStyle: { color: seriesColors[i], opacity: 1 },
  emphasis: { disabled: true },
  silent: true,
  data: pts
}));

const option = {
  backgroundColor: '#ffffff',
  animation: false,
  textStyle: { fontFamily: FONT },
  grid: { left: 89, right: -7, top: 17, bottom: 109, containLabel: false, outerBoundsMode: 'none' },
  legend: {
    orient: 'vertical',
    left: 452,
    top: 84,
    icon: 'circle',
    itemWidth: 27,
    itemHeight: 3,
    itemGap: 16,
    selectedMode: false,
    textStyle: { color: '#000', fontSize: 22, fontFamily: FONT, lineHeight: 24 },
    data: seriesNames.map((n, i) => ({ name: n, icon: 'circle', itemStyle: { color: seriesColors[i] } }))
  },
  xAxis: xAxes,
  yAxis: yAxes,
  series: cloudSeries.concat([
    majorTickSeries(xMajorTicks, 'bottom', 28),
    majorTickSeries(xMajorTicks, 'top', 28),
    majorTickSeries(yMajorTicks, 'left', 20),
    majorTickSeries(yMajorTicks, 'right', 20),
    {
      name: 'centres',
      type: 'scatter',
      xAxisIndex: 0,
      yAxisIndex: 0,
      z: 5,
      silent: true,
      symbol: 'path://M0 0L10 10M10 0L0 10',
      symbolSize: 12,
      itemStyle: { color: 'none', borderColor: '#000', borderWidth: 1.3 },
      emphasis: { disabled: true },
      data: centres,
      markLine: {
        silent: true,
        z: 1,
        symbol: ['none', 'none'],
        label: { show: false },
        lineStyle: { color: '#000', width: 1, type: [2, 3], opacity: 1 },
        emphasis: { disabled: true },
        animation: false,
        data: guideLines
      }
    }
  ])
};

chart.setOption(option);
</script>
</body>
</html>
